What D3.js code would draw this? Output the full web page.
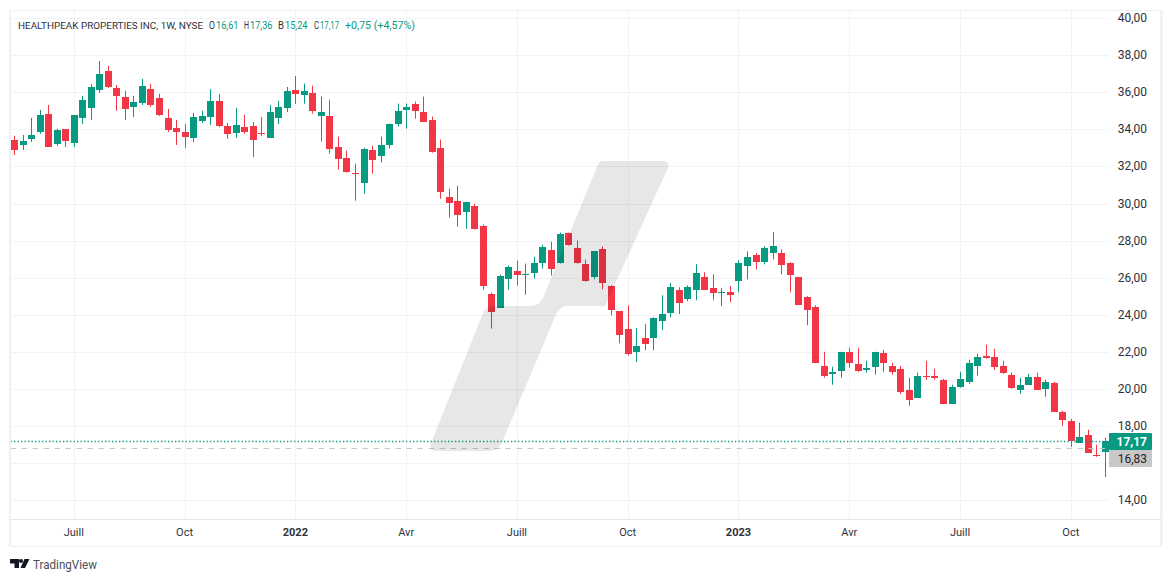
<!DOCTYPE html>
<html><head><meta charset="utf-8">
<script src="https://cdn.jsdelivr.net/npm/d3@7"></script>
<style>html,body{margin:0;padding:0;background:#fff}svg{display:block}text{font-family:Roboto,sans-serif}</style>
</head><body><svg id="c" width="1171" height="582"></svg>
<script>
const title = "HEALTHPEAK PROPERTIES INC, 1W, NYSE";
const opens = [33.43,33.16,33.49,33.86,34.83,33.22,34.03,33.27,34.62,35.16,36.13,37.15,36.24,35.75,35.21,35.43,36.18,35.70,34.62,34.08,33.86,33.54,34.46,34.67,35.54,34.19,33.81,34.13,34.19,33.81,33.54,34.62,35.16,36.13,35.87,35.98,34.74,34.74,33.07,32.47,31.67,31.13,32.91,32.58,33.18,34.31,35.06,35.39,34.96,34.53,33.01,30.37,30.15,29.56,29.88,28.81,25.14,24.38,25.95,26.38,26.16,26.27,26.81,27.51,26.81,28.43,27.62,26.76,26.02,27.53,25.54,24.19,23.22,21.97,22.73,22.73,23.65,24.08,25.32,24.83,25.32,26.02,25.43,25.16,25.21,25.81,26.62,27.21,26.83,27.32,27.32,26.78,26.02,24.94,24.40,21.24,20.81,20.97,22.00,21.35,21.03,21.19,21.95,21.24,21.08,19.95,19.52,20.71,20.71,20.49,19.19,20.11,20.38,21.24,21.78,21.73,21.24,20.76,19.95,20.22,20.65,20.00,20.33,18.76,18.28,17.09,17.52,16.44,16.61];
const highs = [33.65,33.70,34.62,35.05,35.32,34.03,34.03,34.78,35.81,36.45,37.69,37.42,36.40,36.08,35.81,36.72,36.45,35.91,35.10,34.51,34.29,34.89,35.00,36.18,35.91,34.35,35.16,34.78,34.40,34.67,35.32,35.54,36.29,36.88,36.47,36.36,35.77,35.60,33.61,32.85,32.15,33.01,33.12,33.61,34.31,35.39,35.39,35.50,35.77,34.69,33.45,30.80,30.96,30.10,29.99,28.86,25.19,26.16,26.65,26.92,26.76,27.13,27.78,27.94,28.43,28.43,28.00,26.97,27.42,27.69,25.59,24.19,24.51,23.27,23.49,23.86,25.05,25.70,25.48,25.59,26.72,26.29,26.18,25.43,25.54,26.94,27.42,27.32,27.69,28.45,27.53,26.83,26.02,25.00,24.51,22.00,21.19,22.00,22.22,22.22,21.51,22.00,22.11,21.41,21.24,20.60,20.87,21.51,21.08,20.54,20.22,20.92,21.57,21.89,22.38,22.16,21.51,20.87,20.60,20.81,20.87,20.49,20.38,18.82,18.38,18.17,17.79,16.98,17.36];
const lows = [32.62,32.89,33.32,33.76,33.05,33.11,33.05,33.05,34.29,34.51,35.97,36.24,35.00,34.51,34.67,35.32,35.21,34.73,33.86,33.16,33.00,33.32,34.35,34.24,34.13,33.49,33.54,33.76,32.51,33.65,33.54,34.29,34.94,35.37,35.39,34.85,33.34,32.69,31.83,31.67,30.15,30.53,31.61,32.21,32.96,34.15,34.04,34.58,34.42,32.74,30.26,29.24,28.75,28.64,28.59,25.35,23.25,24.38,25.35,25.57,25.08,25.95,26.49,26.11,26.76,27.73,26.76,25.78,25.91,25.37,23.97,22.46,21.81,21.44,22.08,22.08,23.16,23.86,24.03,24.73,24.78,25.32,24.78,24.46,24.67,25.21,25.91,26.45,26.72,26.99,26.18,25.21,24.51,23.43,21.38,20.60,20.22,20.60,21.14,20.92,20.87,20.76,20.92,20.76,19.73,19.09,19.52,20.49,20.49,19.19,19.19,20.06,20.27,20.71,21.62,21.03,20.81,20.00,19.73,20.22,19.95,19.57,18.76,18.00,16.87,17.09,16.55,16.33,15.24];
const closes = [32.89,33.38,33.70,34.78,33.05,33.97,33.38,34.78,35.59,36.29,36.99,36.29,35.81,35.10,35.48,36.35,35.32,34.78,33.97,33.86,33.59,34.67,34.73,35.54,34.19,33.76,34.24,33.86,33.43,33.76,34.94,35.21,36.08,35.91,36.09,35.01,34.96,32.96,32.42,31.72,31.61,32.96,32.37,33.18,34.31,35.01,35.23,35.01,34.42,32.80,30.64,30.05,29.40,30.10,28.64,25.57,24.17,26.11,26.59,26.16,26.22,26.81,27.67,26.49,28.37,27.78,26.81,25.84,27.42,25.70,24.24,22.89,21.87,22.30,22.41,23.81,24.03,25.48,24.62,25.48,26.24,25.32,25.16,25.21,25.05,26.78,27.10,26.83,27.59,27.69,26.67,26.13,24.51,24.24,21.38,20.71,20.92,22.00,21.41,20.97,21.14,22.00,21.41,20.92,19.84,19.41,20.71,20.65,20.60,19.19,20.11,20.54,21.41,21.73,21.68,21.19,20.87,20.06,20.22,20.65,19.95,20.38,18.76,18.33,17.20,17.41,16.55,16.42,17.17];
const yTicks = [14,16,18,20,22,24,26,28,30,32,34,36,38,40];
const xTickIdx = [7,20,33,46,59,72,85,98,111,124];
const xTickLabels = ["Juill","Oct","2022","Avr","Juill","Oct","2023","Avr","Juill","Oct"];
const lastPrice = 17.17, prevLevel = 16.83;
const GREEN="#089981", RED="#F23645", GRID="#f2f3f7", FRAME="#eef0f6", TXT="#2f3239";

const svg = d3.select("#c");
const xS = d3.scaleLinear().domain([7,124]).range([74.3,1071.3]);
const yS = d3.scaleLinear().domain([14,40]).range([500,18.2]);
const pL=10.5, plotR=1109, pR=1161, pT=10.5, axisY=519.5, pB=546.5;
const px = i => Math.floor(xS(i))+.5;
const num = d3.formatLocale({decimal:",",thousands:" ",grouping:[3],currency:["","€"]}).format(".2f");

// frame + grid
svg.append("g").selectAll("line").data(yTicks).join("line").attr("x1",pL).attr("x2",plotR)
  .attr("y1",d=>Math.round(yS(d))+.5).attr("y2",d=>Math.round(yS(d))+.5).attr("stroke",GRID);
svg.append("g").selectAll("line").data(xTickIdx).join("line").attr("x1",px).attr("x2",px)
  .attr("y1",pT).attr("y2",axisY).attr("stroke",GRID);

// candles
const candles = d3.range(opens.length);
const col = i => closes[i]>=opens[i]?GREEN:RED;
svg.append("g").selectAll("line").data(candles).join("line")
  .attr("x1",px).attr("x2",px).attr("y1",i=>yS(highs[i])).attr("y2",i=>yS(lows[i]))
  .attr("stroke",col).attr("stroke-width",1);
svg.append("g").selectAll("rect").data(candles).join("rect")
  .attr("x",i=>px(i)-3.5).attr("width",7)
  .attr("y",i=>Math.round(yS(Math.max(opens[i],closes[i]))))
  .attr("height",i=>Math.max(1,Math.round(yS(Math.min(opens[i],closes[i])))-Math.round(yS(Math.max(opens[i],closes[i])))))
  .attr("fill",col);

// price lines
svg.append("line").attr("x1",pL).attr("x2",plotR).attr("y1",Math.round(yS(lastPrice))+.5).attr("y2",Math.round(yS(lastPrice))+.5)
  .attr("stroke",GREEN).attr("stroke-width",1.3).attr("stroke-dasharray","1.3 2.2");
svg.append("line").attr("x1",pL).attr("x2",plotR).attr("y1",Math.round(yS(prevLevel))+.5).attr("y2",Math.round(yS(prevLevel))+.5)
  .attr("stroke","#c8c8c8").attr("stroke-dasharray","5.5 5.5");

// watermark
svg.append("path").attr("fill","#000").attr("fill-opacity",.095)
 .attr("d","M602,161L663,161Q670,161 668,168L605,306L568,306Q559,306 555,317L503,440Q499,451 490,451L437,451Q428,451 431,443L483,313Q486,306 494,306L530,306Q541,306 545,293L597,167Q599,161 602,161Z");

// outer frame
svg.append("path").attr("fill","none").attr("stroke",FRAME).attr("stroke-width",1)
 .attr("d",`M${pL},${pT}H${pR}V${pB}H${pL}Z`);
svg.append("line").attr("x1",pL).attr("x2",pR).attr("y1",axisY).attr("y2",axisY).attr("stroke","#e3e5ec");
svg.append("line").attr("x1",pR+.5).attr("x2",pR+.5).attr("y1",pT).attr("y2",pB).attr("stroke",FRAME).attr("stroke-width",2);
svg.append("line").attr("x1",pL-.5).attr("x2",pL-.5).attr("y1",pT).attr("y2",pB).attr("stroke",FRAME).attr("stroke-width",2);

// axes (the 16,00 label sits behind the two price boxes in the reference)
const ya = svg.append("g").attr("transform","translate(1147,-0.3)")
  .call(d3.axisLeft(yS).tickValues(yTicks).tickFormat(d=>d===16?"":num(d)).tickSize(0).tickPadding(0));
ya.select(".domain").remove();
ya.selectAll("text").attr("font-size",12).attr("fill",TXT).attr("text-anchor","end").style("font-family","Roboto");
const xa = svg.append("g").attr("transform","translate(-1,528)")
  .call(d3.axisBottom(xS).tickValues(xTickIdx).tickFormat((d,i)=>xTickLabels[i]).tickSize(0).tickPadding(0));
xa.select(".domain").remove();
xa.selectAll("text").attr("font-size",11).attr("fill",TXT).style("font-family","Roboto")
  .attr("font-weight",(d,i)=>/^\d/.test(xTickLabels[i])?700:400);

// price labels
const box=(p,h0,fill,fg,bold)=>{
  svg.append("rect").attr("x",1109).attr("y",h0).attr("width",43).attr("height",17).attr("rx",1).attr("fill",fill);
  svg.append("text").attr("x",1147).attr("y",h0+12.5).attr("text-anchor","end").attr("font-size",12)
    .attr("font-weight",bold?700:400).attr("fill",fg).text(num(p));
};
box(prevLevel,450,"#c8c8c8","#1f2127",false);
box(lastPrice,433,GREEN,"#fff",true);

// legend
const legendText=(s,x0,w,fill,fs)=>svg.append("text").attr("x",x0).attr("y",29).attr("font-size",fs||10.5).attr("fill",fill)
  .attr("textLength",w).attr("lengthAdjust","spacingAndGlyphs").text(s);
legendText(title,18,185,TXT,9.9);
[["O",opens,209,216],["H",highs,244,250],["B",lows,278,285],["C",closes,314,320]].forEach(([k,a,x0,x1])=>{
  legendText(k,x0,x1-x0-1,TXT);
  legendText(num(a[a.length-1]),x1,k==="C"?19:22.5,GREEN);
});
legendText("+0,75 (+4,57%)",345,70,GREEN);

// logo
const logo = svg.append("g").attr("fill","#131722");
logo.append("path").attr("d","M10,559H19V568H14.5V563.5H10Z");
logo.append("circle").attr("cx",21).attr("cy",561).attr("r",2);
logo.append("path").attr("d","M24.5,559H29.5L25,568H20.5Z");
svg.append("text").attr("x",33).attr("y",568.5).attr("font-size",13).attr("fill","#4a4e58")
  .attr("textLength",64).attr("lengthAdjust","spacingAndGlyphs").text("TradingView");
</script></body></html>
